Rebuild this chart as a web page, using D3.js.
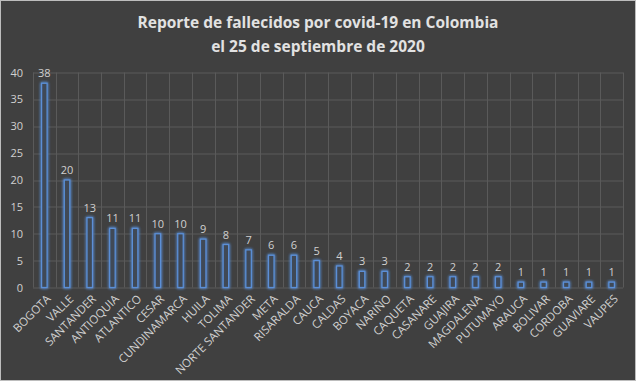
<!DOCTYPE html>
<html>
<head>
<meta charset="utf-8">
<script src="https://cdn.jsdelivr.net/npm/d3@7"></script>
<style>
  body { margin: 0; background: #fff; }
  svg { display: block; }
</style>
</head>
<body>
<div id="chart"></div>
<script>
// departments and deaths reported on 25 Sept 2020
const categories = ['BOGOTA', 'VALLE', 'SANTANDER', 'ANTIOQUIA', 'ATLANTICO', 'CESAR',
  'CUNDINAMARCA', 'HUILA', 'TOLIMA', 'NORTE SANTANDER', 'META', 'RISARALDA', 'CAUCA',
  'CALDAS', 'BOYACA', 'NARIÑO', 'CAQUETA', 'CASANARE', 'GUAJIRA', 'MAGDALENA',
  'PUTUMAYO', 'ARAUCA', 'BOLIVAR', 'CORDOBA', 'GUAVIARE', 'VAUPES'];
const deaths = [38, 20, 13, 11, 11, 10, 10, 9, 8, 7, 6, 6, 5, 4, 3, 3, 2, 2, 2, 2, 2, 1, 1, 1, 1, 1];
const yTicks = [0, 5, 10, 15, 20, 25, 30, 35, 40];
const titleLines = ['Reporte de fallecidos por covid-19 en Colombia', 'el 25 de septiembre de 2020'];

const W = 638, H = 383;
const margin = { top: 72.5, right: 15, bottom: 95.5, left: 33 };
const width = W - margin.left - margin.right;
const height = H - margin.top - margin.bottom;

const svg = d3.select('#chart').append('svg')
  .attr('width', W)
  .attr('height', H);

// glow around the bars
const defs = svg.append('defs');
const glow = defs.append('filter').attr('id', 'glow')
  .attr('x', '-100%').attr('y', '-50%').attr('width', '300%').attr('height', '200%');
glow.append('feGaussianBlur').attr('in', 'SourceGraphic').attr('stdDeviation', 1.8).attr('result', 'blur');
const merge = glow.append('feMerge');
merge.append('feMergeNode').attr('in', 'blur');
merge.append('feMergeNode').attr('in', 'blur');
merge.append('feMergeNode').attr('in', 'SourceGraphic');

// background + border
svg.append('rect')
  .attr('x', 0.5).attr('y', 0.5)
  .attr('width', W - 3).attr('height', H - 3)
  .attr('fill', '#404040')
  .attr('stroke', '#bdbdbd');

// title
svg.append('g').selectAll('text')
  .data(titleLines)
  .enter().append('text')
  .attr('x', 318)
  .attr('y', (d, i) => 28 + i * 23.5)
  .attr('text-anchor', 'middle')
  .attr('font-family', 'Open Sans, sans-serif')
  .attr('font-weight', 'bold')
  .attr('font-size', 15.5)
  .attr('fill', '#e2e2e2')
  .text(d => d);

const chart = svg.append('g')
  .attr('transform', `translate(${margin.left}, ${margin.top})`);

const x = d3.scaleBand()
  .domain(categories)
  .range([0, width]);

const y = d3.scaleLinear()
  .domain([0, 40])
  .range([height, 0]);

// horizontal grid
chart.append('g').selectAll('line')
  .data(yTicks)
  .enter().append('line')
  .attr('x1', 0).attr('x2', width)
  .attr('y1', d => Math.round(y(d)) + 0.5)
  .attr('y2', d => Math.round(y(d)) + 0.5)
  .attr('stroke', '#5a5a5a');

// vertical grid at category boundaries
const bounds = categories.map(c => x(c)).concat([width]);
chart.append('g').selectAll('line')
  .data(bounds)
  .enter().append('line')
  .attr('x1', d => Math.round(d) + 0.5)
  .attr('x2', d => Math.round(d) + 0.5)
  .attr('y1', 0).attr('y2', height)
  .attr('stroke', '#5a5a5a');

// y axis labels
const yAxis = chart.append('g')
  .call(d3.axisLeft(y).tickValues(yTicks).tickSize(0).tickPadding(10));
yAxis.select('.domain').remove();
yAxis.selectAll('text')
  .attr('font-family', 'Open Sans, sans-serif')
  .attr('font-size', 11)
  .attr('fill', '#d0d0d0');

// x axis labels, rotated
const xAxis = chart.append('g')
  .attr('transform', `translate(0, ${height})`)
  .call(d3.axisBottom(x).tickSize(0));
xAxis.select('.domain').remove();
xAxis.selectAll('text')
  .attr('font-family', 'Open Sans, sans-serif')
  .attr('font-size', 11.5)
  .attr('fill', '#d0d0d0')
  .attr('text-anchor', 'end')
  .attr('dy', 0)
  .attr('transform', 'translate(5, 10) rotate(-45)');

// bars
const barW = 5.5;
chart.append('g').selectAll('rect')
  .data(deaths)
  .enter().append('rect')
  .attr('x', (d, i) => x(categories[i]) + x.bandwidth() / 2 - barW / 2)
  .attr('y', d => y(d))
  .attr('width', barW)
  .attr('height', d => height - y(d))
  .attr('fill', '#3f4856')
  .attr('stroke', '#5b8fd6')
  .attr('stroke-width', 1.3)
  .attr('filter', 'url(#glow)');

// value labels
chart.append('g').selectAll('text')
  .data(deaths)
  .enter().append('text')
  .attr('x', (d, i) => x(categories[i]) + x.bandwidth() / 2)
  .attr('y', d => y(d) - 6)
  .attr('text-anchor', 'middle')
  .attr('font-family', 'Open Sans, sans-serif')
  .attr('font-size', 11)
  .attr('fill', '#d0d0d0')
  .text(d => d);
</script>
</body>
</html>
